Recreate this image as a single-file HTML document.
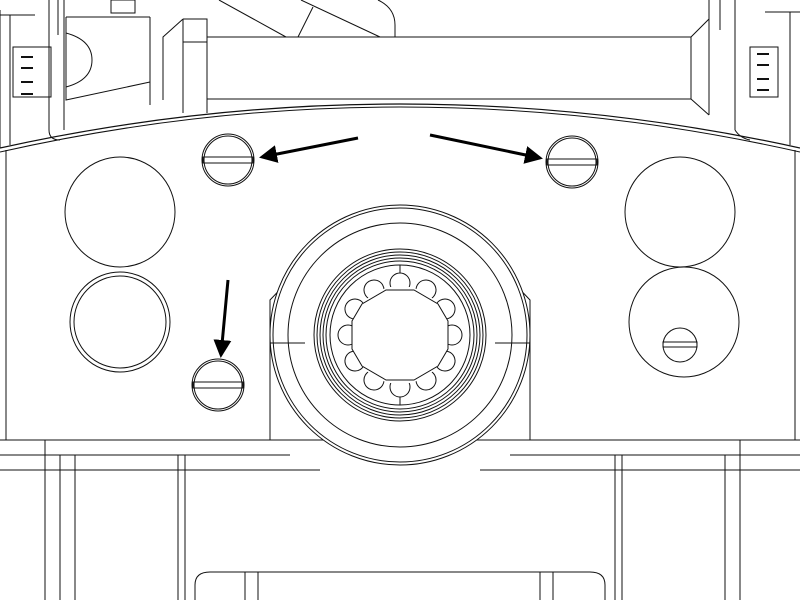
<!DOCTYPE html>
<html><head><style>html,body{margin:0;padding:0;background:#fff}svg{display:block}</style></head><body>
<svg width="800" height="600" viewBox="0 0 800 600" xmlns="http://www.w3.org/2000/svg" fill="none" stroke="#111" stroke-width="1">
<defs><marker id="ah" markerWidth="6" markerHeight="6" refX="5" refY="3" orient="auto" markerUnits="strokeWidth"><path d="M0,0 L6,3 L0,6 z" fill="#000" stroke="none"/></marker></defs>
<rect x="207" y="37" width="484" height="62"/>
<path d="M183,19 L207,19 L207,113 M183,19 L183,113 M183,42 L207,42"/>
<path d="M183,19 L163,37 L163,100"/>
<path d="M691,37 L709,19 L709,115 M691,99 L709,115"/>
<line x1="709" y1="0" x2="709" y2="40"/><line x1="735" y1="0" x2="735" y2="130"/>
<line x1="150" y1="17" x2="150" y2="105"/>
<path d="M66,17 L150,17 M66,17 L66,100 L150,82"/>
<path d="M66,33 Q92,40 92,60 Q92,80 66,87"/>
<rect x="111" y="0" width="24" height="13"/>
<line x1="49" y1="0" x2="49" y2="130"/><line x1="64" y1="0" x2="64" y2="130"/><line x1="58" y1="0" x2="58" y2="35"/>
<path d="M219,0 L286,37 M301,0 L380,37 M313,7 L298,37"/>
<path d="M378,0 Q395,8 395,25 L395,37"/>
<rect x="13" y="47" width="38" height="50"/><rect x="750" y="47" width="28" height="50"/>
<path d="M21,57h12M21,68h12M21,82h12M21,94h12M757,54h12M757,65h12M757,79h12M757,90h12" stroke-width="2"/>
<line x1="0" y1="15" x2="35" y2="15"/><line x1="765" y1="12" x2="800" y2="12"/>
<line x1="720" y1="0" x2="720" y2="30"/>
<path d="M49,130 Q49,140 60,140 M735,130 Q740,138 750,140"/>
<line x1="0" y1="10" x2="0" y2="148"/><line x1="10" y1="15" x2="10" y2="145"/>
<line x1="790" y1="12" x2="790" y2="145"/>
<path d="M0,148 Q400,60 800,148" stroke-width="1.2"/>
<path d="M0,152 Q400,62 800,152"/>
<path d="M6,150 L6,440 L270,440 L270,300 Q400,160 530,300 L530,440 L795,440 L795,150"/>
<path d="M0,440 L800,440"/>
<circle cx="120" cy="212" r="55"/>
<circle cx="120" cy="322" r="50"/><circle cx="120" cy="322" r="46"/>
<circle cx="680" cy="212" r="55"/>
<circle cx="684" cy="322" r="55"/>
<g>
<circle cx="228" cy="160" r="26"/><circle cx="228" cy="160" r="24"/><rect x="203" y="157" width="50" height="6"/>
<circle cx="572" cy="162" r="26"/><circle cx="572" cy="162" r="24"/><rect x="547" y="159" width="50" height="6"/>
<circle cx="218" cy="385" r="26"/><circle cx="218" cy="385" r="24"/><rect x="193" y="382" width="50" height="6"/>
<circle cx="680" cy="345" r="17"/><rect x="663" y="342" width="34" height="5"/>
</g>
<circle cx="400" cy="335" r="130" fill="#fff"/>
<circle cx="400" cy="335" r="127"/>
<circle cx="400" cy="335" r="112"/>
<line x1="270" y1="343" x2="305" y2="343"/><line x1="495" y1="343" x2="530" y2="343"/>
<circle cx="400" cy="335" r="86"/><circle cx="400" cy="335" r="83"/><circle cx="400" cy="335" r="80"/><circle cx="400" cy="335" r="77"/><circle cx="400" cy="335" r="74"/><circle cx="400" cy="335" r="70"/>
<g transform="translate(400,335)">
<g id="s"><circle cx="0" cy="-52" r="10" fill="#fff"/></g>
<use href="#s" transform="rotate(30)"/><use href="#s" transform="rotate(60)"/><use href="#s" transform="rotate(90)"/><use href="#s" transform="rotate(120)"/><use href="#s" transform="rotate(150)"/><use href="#s" transform="rotate(180)"/><use href="#s" transform="rotate(210)"/><use href="#s" transform="rotate(240)"/><use href="#s" transform="rotate(270)"/><use href="#s" transform="rotate(300)"/><use href="#s" transform="rotate(330)"/>
<circle cx="0" cy="0" r="49" fill="#fff" stroke="none"/>
<polygon points="-14,-45 14,-45 38,-31 48,-14 48,14 38,31 14,45 -14,45 -38,31 -48,14 -48,-14 -38,-31" fill="#fff"/>
<line x1="0" y1="-70" x2="0" y2="-62"/><line x1="0" y1="70" x2="0" y2="62"/>
</g>
<line x1="0" y1="455" x2="290" y2="455"/><line x1="510" y1="455" x2="800" y2="455"/>
<line x1="0" y1="470" x2="320" y2="470"/><line x1="480" y1="470" x2="800" y2="470"/>
<line x1="45" y1="440" x2="45" y2="600"/><line x1="60" y1="455" x2="60" y2="600"/><line x1="75" y1="455" x2="75" y2="600"/>
<line x1="740" y1="440" x2="740" y2="600"/><line x1="725" y1="455" x2="725" y2="600"/>
<line x1="178" y1="455" x2="178" y2="600"/><line x1="185" y1="455" x2="185" y2="600"/>
<line x1="615" y1="455" x2="615" y2="600"/><line x1="622" y1="455" x2="622" y2="600"/>
<path d="M195,600 L195,585 Q195,572 210,572 L590,572 Q605,572 605,585 L605,600"/>
<line x1="245" y1="572" x2="245" y2="600"/><line x1="258" y1="572" x2="258" y2="600"/>
<line x1="540" y1="572" x2="540" y2="600"/><line x1="553" y1="572" x2="553" y2="600"/>
<g stroke="#000" stroke-width="3">
<line x1="358" y1="138" x2="262" y2="157" marker-end="url(#ah)"/>
<line x1="430" y1="135" x2="540" y2="158" marker-end="url(#ah)"/>
<line x1="228" y1="280" x2="221" y2="355" marker-end="url(#ah)"/>
</g>
</svg>
</body></html>
